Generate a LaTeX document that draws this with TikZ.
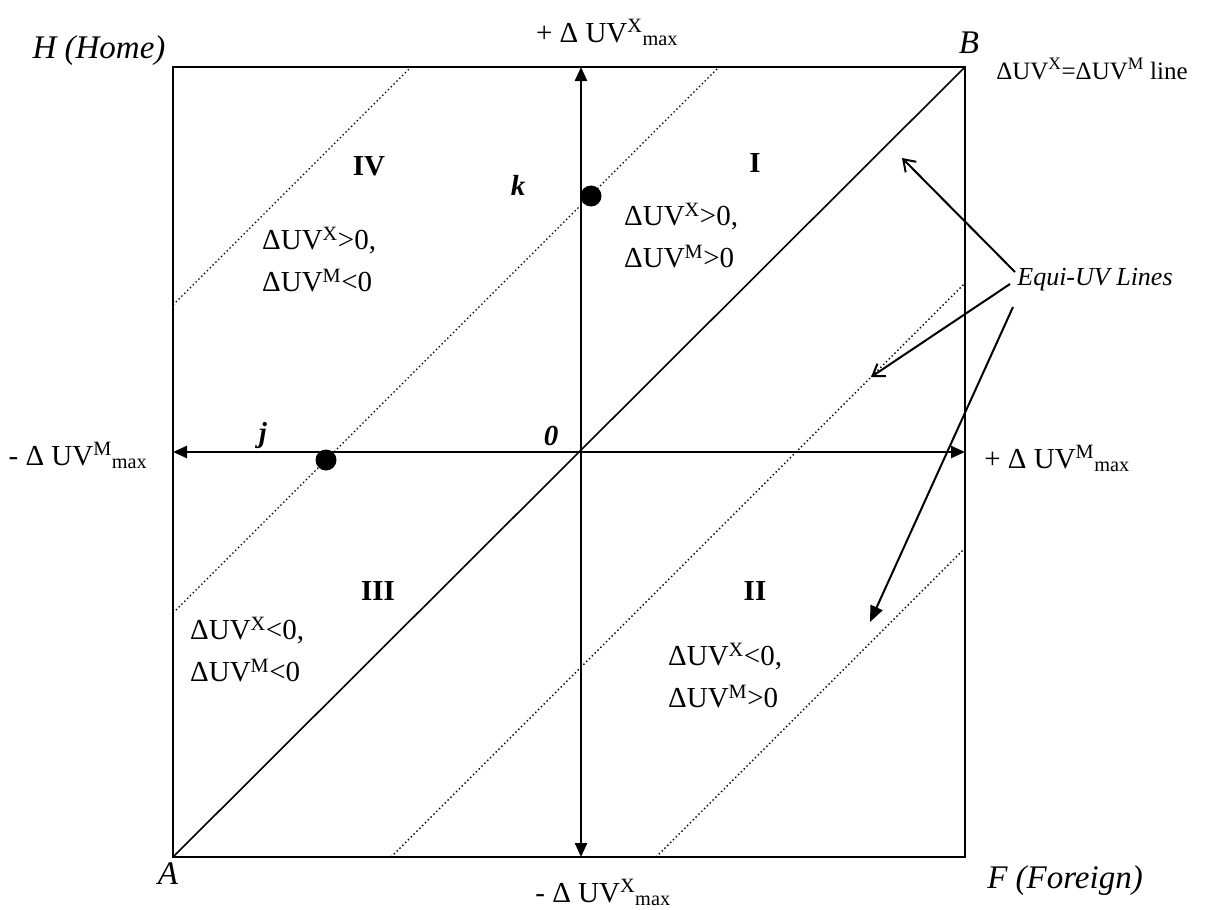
\documentclass[tikz,border=0pt]{standalone}
\usepackage{fontspec}
\setmainfont{Liberation Serif}
\usetikzlibrary{arrows.meta}

\begin{document}
\begin{tikzpicture}[x=1pt, y=-1pt,
  lbl/.style={font=\fontsize{29}{42}\selectfont, inner sep=0pt},
  quad/.style={lbl, align=left, anchor=north west},
  roman/.style={lbl, font=\fontsize{29}{34}\selectfont\bfseries, anchor=base},
  corner/.style={lbl, font=\fontsize{33}{38}\selectfont\itshape, anchor=base},
  axislbl/.style={lbl, anchor=base},
  axis/.style={{Triangle[length=14pt,width=12pt]}-{Triangle[length=14pt,width=12pt]}, line width=2.4pt},
  equi/.style={dash pattern=on 1.4pt off 2.6pt, line width=1.4pt},
  pointer/.style={-{Straight Barb[length=11pt,width=15pt]}, line width=2pt},
  spot/.style={circle, fill, inner sep=0pt, minimum size=21pt}
]
  \useasboundingbox (0,0) rectangle (1205,910);

  % Square and its corners
  \coordinate (A) at (173,857);
  \coordinate (B) at (965,67);
  \coordinate (H) at (173,67);
  \coordinate (F) at (965,857);
  \coordinate (O) at (581,452);
  \draw[line width=2pt] (H) rectangle (F);

  % Equal-change diagonal
  \draw[line width=1.6pt] (A) -- (B);

  % Axes
  \draw[axis] (H |- O) -- (F |- O);
  \draw[axis] (O |- H) -- (O |- F);

  % Equi-UV lines
  \coordinate (e1a) at (173,305);
  \coordinate (e1b) at (411,67);
  \coordinate (e2a) at (173,613);
  \coordinate (e2b) at (719,67);
  \coordinate (e3a) at (391,857);
  \coordinate (e3b) at (965,283);
  \coordinate (e4a) at (656,857);
  \coordinate (e4b) at (965,548);
  \draw[equi] (e1a) -- (e1b);
  \draw[equi] (e2a) -- (e2b);
  \draw[equi] (e3a) -- (e3b);
  \draw[equi] (e4a) -- (e4b);

  % Points j and k
  \node[spot] (jdot) at (326,460) {};
  \node[spot] (kdot) at (591,196) {};

  % Axis labels
  \node[axislbl] (xmax) at (607,42) {+ Δ UV\textsuperscript{X}\textsubscript{max}};
  \node[axislbl] (xmin) at (603,902) {- Δ UV\textsuperscript{X}\textsubscript{max}};
  \node[axislbl] (mmin) at (78,465) {- Δ UV\textsuperscript{M}\textsubscript{max}};
  \node[axislbl] (mmax) at (1057,468) {+ Δ UV\textsuperscript{M}\textsubscript{max}};

  % Corner labels
  \node[corner] (hlbl) at (99,58) {H (Home)};
  \node[corner] (blbl) at (969,53) {B};
  \node[corner] (albl) at (168,884) {A};
  \node[corner] (flbl) at (1065,888) {F (Foreign)};
  \node[axislbl, font=\fontsize{25}{30}\selectfont] (diaglbl) at (1092,79) {ΔUV\textsuperscript{X}=ΔUV\textsuperscript{M} line};

  % Quadrants
  \node[roman] (q4) at (369,175) {IV};
  \node[quad] (q4txt) at (262,227) {ΔUV\textsuperscript{X}>0,\\ΔUV\textsuperscript{M}<0};
  \node[roman] (q1) at (755,172) {I};
  \node[quad] (q1txt) at (624,203) {ΔUV\textsuperscript{X}>0,\\ΔUV\textsuperscript{M}>0};
  \node[roman] (q3) at (378,600) {III};
  \node[quad] (q3txt) at (190,617) {ΔUV\textsuperscript{X}<0,\\ΔUV\textsuperscript{M}<0};
  \node[roman] (q2) at (755,600) {II};
  \node[quad] (q2txt) at (668,643) {ΔUV\textsuperscript{X}<0,\\ΔUV\textsuperscript{M}>0};

  % Point labels
  \node[roman, font=\fontsize{29}{34}\selectfont\bfseries\itshape] (klbl) at (518,195) {k};
  \node[roman, font=\fontsize{29}{34}\selectfont\bfseries\itshape] (jlbl) at (263,442) {j};
  \node[roman, font=\fontsize{29}{34}\selectfont\bfseries\itshape] (olbl) at (551,445) {0};

  % Equi-UV pointers
  \node[lbl, font=\fontsize{26}{30}\selectfont\itshape] (equi) at (1095,280) {Equi-UV Lines};
  \coordinate (p1) at (1015,272);
  \coordinate (t1) at (902,158);
  \coordinate (p2) at (1010,284);
  \coordinate (t2) at (871,377);
  \coordinate (p3) at (1013,307);
  \coordinate (t3) at (870,622);
  \draw[pointer] (p1) -- (t1);
  \draw[pointer] (p2) -- (t2);
  \draw[-{Triangle[length=16pt,width=13pt]}, line width=2pt] (p3) -- (t3);
\end{tikzpicture}
\end{document}
